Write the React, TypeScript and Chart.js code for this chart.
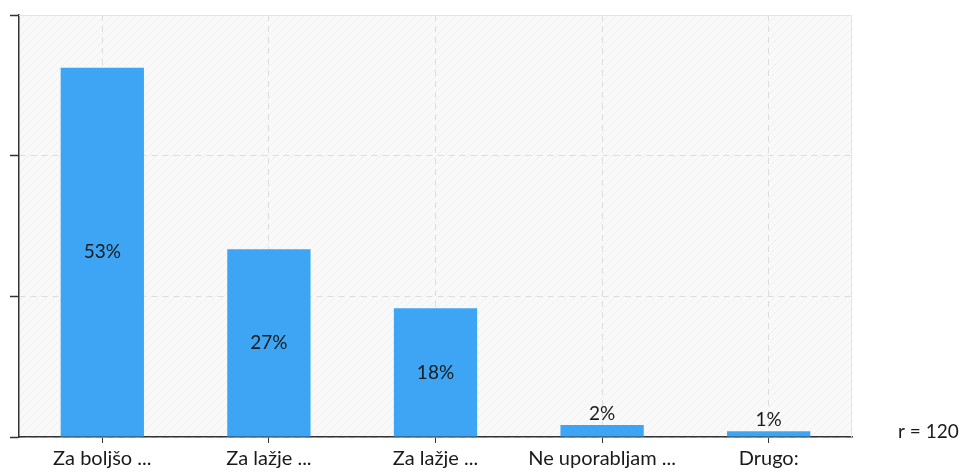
import React, { useEffect, useRef } from "react";
import { Chart, registerables } from "chart.js";

Chart.register(...registerables);

const categories = ["Za boljšo ...", "Za lažje ...", "Za lažje ...", "Ne uporabljam ...", "Drugo:"];
const percentValues = [52.5, 26.7, 18.3, 1.7, 0.8];
const valueLabels = ["53%", "27%", "18%", "2%", "1%"];
const yTicks = [0, 20, 40, 60];
const respondentNote = "r = 120";

const FONT = "Lato, 'Noto Sans', sans-serif";

function makeHatch(): CanvasPattern | string {
  const c = document.createElement("canvas");
  c.width = 8;
  c.height = 8;
  const g = c.getContext("2d");
  if (!g) return "#f8f8f8";
  g.fillStyle = "#f9f9f9";
  g.fillRect(0, 0, 8, 8);
  g.strokeStyle = "#efefef";
  g.lineWidth = 1;
  g.beginPath();
  g.moveTo(-1, 9);
  g.lineTo(9, -1);
  g.moveTo(-1, 1);
  g.lineTo(1, -1);
  g.moveTo(7, 9);
  g.lineTo(9, 7);
  g.stroke();
  const p = g.createPattern(c, "repeat");
  return p || "#f8f8f8";
}

const decorPlugin = {
  id: "decor",
  beforeDraw(chart: any) {
    const { ctx, chartArea } = chart;
    ctx.save();
    ctx.fillStyle = makeHatch();
    ctx.fillRect(chartArea.left, chartArea.top, chartArea.right - chartArea.left, chartArea.bottom - chartArea.top);
    ctx.restore();
  },
  afterDatasetsDraw(chart: any) {
    const { ctx, chartArea } = chart;
    ctx.save();
    // light frame top/right
    ctx.strokeStyle = "#e4e4e4";
    ctx.lineWidth = 1;
    ctx.beginPath();
    ctx.moveTo(chartArea.left, chartArea.top + 0.5);
    ctx.lineTo(chartArea.right - 0.5, chartArea.top + 0.5);
    ctx.lineTo(chartArea.right - 0.5, chartArea.bottom);
    ctx.stroke();

    // value labels
    const meta = chart.getDatasetMeta(0);
    ctx.font = `19px ${FONT}`;
    ctx.fillStyle = "#1a1a1a";
    ctx.textAlign = "center";
    meta.data.forEach((bar: any, i: number) => {
      const h = bar.base - bar.y;
      if (h > 40) {
        ctx.textBaseline = "middle";
        ctx.fillText(valueLabels[i], bar.x, (bar.y + bar.base) / 2);
      } else {
        ctx.textBaseline = "bottom";
        ctx.fillText(valueLabels[i], bar.x, bar.y - 2);
      }
    });

    // respondent note
    ctx.textAlign = "left";
    ctx.textBaseline = "middle";
    ctx.fillStyle = "#1a1a1a";
    ctx.fillText(respondentNote, chartArea.right + 46, chartArea.bottom - 5);
    ctx.restore();
  },
};

export default function App() {
  const ref = useRef<HTMLCanvasElement | null>(null);
  useEffect(() => {
    document.body.style.margin = "0";
    if (!ref.current) return;
    const chart = new Chart(ref.current, {
      type: "bar",
      data: {
        labels: categories,
        datasets: [
          {
            data: percentValues,
            backgroundColor: "#3ea5f4",
            borderWidth: 0,
            barPercentage: 0.5,
            categoryPercentage: 1,
          },
        ],
      },
      options: {
        animation: false,
        responsive: false,
        maintainAspectRatio: false,
        layout: { padding: { top: 15, right: 108, left: 0, bottom: 0 } },
        plugins: { legend: { display: false }, tooltip: { enabled: false } },
        scales: {
          x: {
            offset: true,
            grid: {
              offset: false,
              color: "#dddddd",
              drawTicks: true,
              tickLength: 6,
              tickColor: "#333",
              tickWidth: 1,
            },
            border: { color: "#333", width: 1.5, dash: [6, 5] },
            ticks: {
              color: "#1a1a1a",
              font: { family: FONT, size: 20 },
              padding: 4,
              maxRotation: 0,
              autoSkip: false,
            },
            afterFit(scale: any) {
              scale.height = 38;
            },
          },
          y: {
            min: 0,
            max: 60,
            afterBuildTicks(scale: any) {
              scale.ticks = yTicks.map((v) => ({ value: v }));
            },
            grid: {
              color: "#dddddd",
              drawTicks: true,
              tickLength: 9,
              tickColor: "#333",
              tickWidth: 1.5,
            },
            border: { color: "#333", width: 1.5, dash: [6, 5] },
            ticks: { display: false },
            afterFit(scale: any) {
              scale.width = 19;
            },
          },
        },
      },
      plugins: [decorPlugin],
    });
    return () => chart.destroy();
  }, []);
  return (
    <div style={{ width: 960, height: 475 }}>
      <canvas ref={ref} width={960} height={475} style={{ display: "block" }} />
    </div>
  );
}
